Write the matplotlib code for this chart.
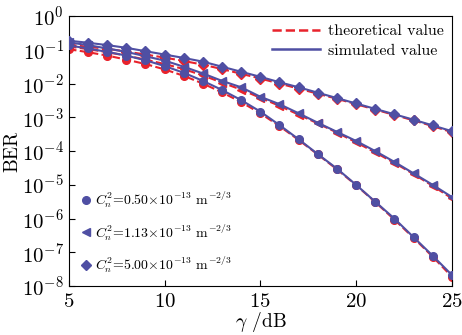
import numpy as np
import matplotlib
matplotlib.use('Agg')
import matplotlib.pyplot as plt
from matplotlib.lines import Line2D

plt.rcParams['font.family'] = 'serif'
plt.rcParams['font.serif'] = ['cmr10', 'DejaVu Serif']
plt.rcParams['mathtext.fontset'] = 'cm'
plt.rcParams['axes.formatter.use_mathtext'] = True

snr = np.arange(5, 26)

# log10(BER)
sim_050 = [-0.87, -0.96, -1.06, -1.17, -1.31, -1.48, -1.68, -1.92, -2.19, -2.49, -2.83,
           -3.23, -3.65, -4.09, -4.52, -5.00, -5.50, -6.00, -6.55, -7.10, -7.67]
theo_050 = [-0.98, -1.07, -1.17, -1.29, -1.42, -1.58, -1.77, -2.00, -2.26, -2.55, -2.88,
            -3.26, -3.67, -4.10, -4.54, -5.01, -5.51, -6.03, -6.57, -7.13, -7.72]
sim_113 = [-0.78, -0.86, -0.96, -1.06, -1.19, -1.32, -1.50, -1.70, -1.92, -2.11, -2.39,
           -2.61, -2.88, -3.16, -3.43, -3.70, -4.00, -4.32, -4.66, -5.00, -5.36]
theo_113 = [-0.90, -0.98, -1.07, -1.17, -1.29, -1.42, -1.57, -1.76, -1.97, -2.18, -2.42,
            -2.66, -2.92, -3.18, -3.45, -3.74, -4.04, -4.35, -4.68, -5.03, -5.40]
sim_500 = [-0.73, -0.79, -0.86, -0.94, -1.04, -1.14, -1.24, -1.35, -1.50, -1.65, -1.80,
           -1.96, -2.11, -2.27, -2.43, -2.59, -2.75, -2.91, -3.07, -3.24, -3.41]
theo_500 = [-0.85, -0.91, -0.97, -1.05, -1.14, -1.23, -1.33, -1.44, -1.57, -1.71, -1.85,
            -2.00, -2.15, -2.30, -2.45, -2.61, -2.77, -2.93, -3.09, -3.26, -3.44]

labels = [r'$C_n^2$=0.50$\times$10$^{-13}$ m$^{-2/3}$',
          r'$C_n^2$=1.13$\times$10$^{-13}$ m$^{-2/3}$',
          r'$C_n^2$=5.00$\times$10$^{-13}$ m$^{-2/3}$']
markers = ['o', '<', 'D']
msizes = [5.5, 5.8, 4.6]
red = '#e8232c'
blue = '#4f4fa3'

fig = plt.figure(figsize=(4.62, 3.35), dpi=100)
ax = fig.add_axes([0.149, 0.146, 0.829, 0.806])

sims = [sim_050, sim_113, sim_500]
theos = [theo_050, theo_113, theo_500]
for s, t, m, ms in zip(sims, theos, markers, msizes):
    ax.plot(snr, 10**np.array(t), color=red, ls='--', lw=1.5, marker=m, ms=ms, zorder=2)
    ax.plot(snr, 10**np.array(s), color=blue, ls='-', lw=1.5, marker=m, ms=ms, zorder=3)

ax.set_yscale('log')
ax.set_xlim(5, 25)
ax.set_ylim(1e-8, 1)
ax.set_xticks([5, 10, 15, 20, 25])
ax.tick_params(which='both', direction='in', top=False, right=False, labelsize=15)
ax.tick_params(which='major', length=4)
ax.tick_params(which='minor', length=2)
ax.tick_params(axis='x', pad=5)
ax.set_yticks([10.0**k for k in range(-8, 1)])
ax.set_xlabel(r'$\gamma$ /dB', fontsize=14, labelpad=-1)
ax.set_ylabel('BER', fontsize=14, labelpad=0)

h1 = [Line2D([], [], color=red, ls='--', lw=1.8),
      Line2D([], [], color=blue, ls='-', lw=1.8)]
leg1 = ax.legend(h1, ['theoretical value', 'simulated value'], loc='upper right',
                 frameon=False, fontsize=11.5, handlelength=3.0, borderaxespad=0.1,
                 labelspacing=0.35, handletextpad=0.5)
ax.add_artist(leg1)

h2 = [Line2D([], [], color=blue, ls='none', marker=m, ms=ms) for m, ms in zip(markers, msizes)]
ax.legend(h2, labels, loc='lower left', frameon=False, fontsize=10,
          handlelength=0.8, handletextpad=0.3, labelspacing=0.85, borderaxespad=0.2,
          borderpad=0.6)

fig.savefig('out.png', dpi=100)
